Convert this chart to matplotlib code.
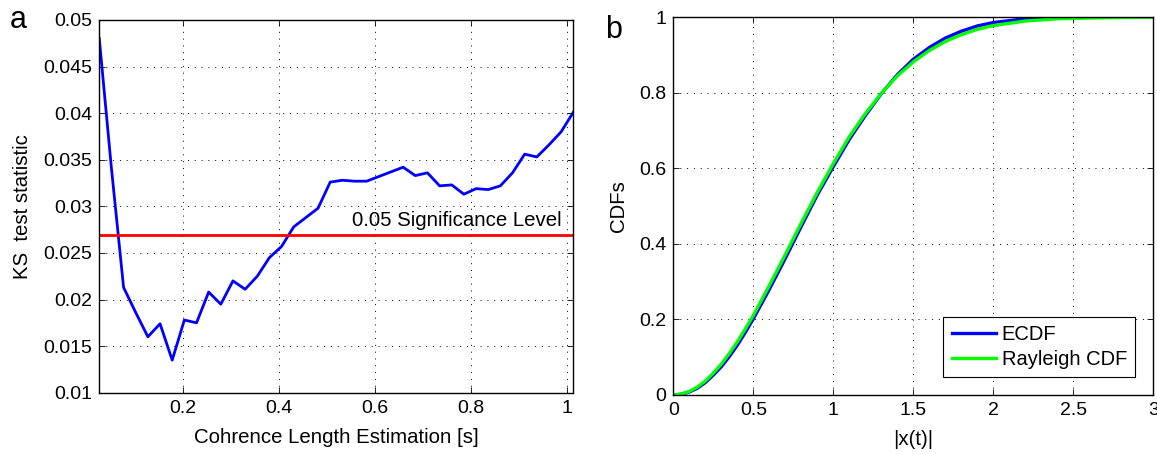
import numpy as np
import matplotlib
matplotlib.use('Agg')
import matplotlib.pyplot as plt
from matplotlib.ticker import FuncFormatter

plt.rcParams['font.family'] = ['Liberation Sans', 'DejaVu Sans']

# panel a: KS statistic vs coherence length
ks_x = np.linspace(0.025, 1.0125, 40)
ks_val = [0.0480, 0.0341, 0.0213, 0.0186, 0.0160, 0.0174, 0.0135, 0.0178,
          0.0175, 0.0208, 0.0195, 0.0220, 0.0211, 0.0225, 0.0245, 0.0257,
          0.0278, 0.0288, 0.0298, 0.0326, 0.0328, 0.0327, 0.0327, 0.0332,
          0.0337, 0.0342, 0.0333, 0.0336, 0.0322, 0.0323, 0.0313, 0.0319,
          0.0318, 0.0322, 0.0336, 0.0356, 0.0353, 0.0366, 0.0380, 0.0401]
sig_level = 0.0269

# panel b: CDFs
cdf_x = [0, 0.05, 0.1, 0.15, 0.2, 0.25, 0.3, 0.35, 0.4, 0.45, 0.5, 0.6, 0.7,
         0.8, 0.9, 1.0, 1.1, 1.2, 1.3, 1.4, 1.5, 1.6, 1.7, 1.8, 1.9, 2.0, 2.2,
         2.4, 2.6, 2.8, 3.0]
ecdf = [0, 0.002, 0.008, 0.018, 0.033, 0.053, 0.075, 0.102, 0.132, 0.166,
        0.202, 0.280, 0.362, 0.447, 0.530, 0.605, 0.677, 0.740, 0.798, 0.848,
        0.889, 0.920, 0.945, 0.963, 0.977, 0.986, 0.996, 0.999, 1.0, 1.0, 1.0]
rayleigh = [0, 0.0024, 0.0095, 0.021, 0.037, 0.058, 0.082, 0.110, 0.141, 0.175,
            0.211, 0.290, 0.372, 0.456, 0.537, 0.613, 0.684, 0.745, 0.799,
            0.845, 0.882, 0.912, 0.936, 0.954, 0.968, 0.978, 0.990, 0.996,
            0.998, 0.9994, 1.0]

fig = plt.figure(figsize=(11.57, 4.54), dpi=100)
ax1 = fig.add_axes([0.0858, 0.135, 0.4097, 0.821])
ax2 = fig.add_axes([0.582, 0.130, 0.4149, 0.832])

fmt = FuncFormatter(lambda v, p: '%g' % round(v, 4))

def style(ax):
    ax.grid(True, color='black', linestyle=(0, (1, 6)), linewidth=0.7)
    ax.tick_params(direction='in', length=4, width=0.6, top=True, right=True,
                   labelsize=14, pad=5)
    for s in ax.spines.values():
        s.set_linewidth(1.0)
    ax.xaxis.set_major_formatter(fmt)
    ax.yaxis.set_major_formatter(fmt)

ax1.plot(ks_x, ks_val, color='blue', linewidth=2)
ax1.axhline(sig_level, color='red', linewidth=2)
ax1.text(0.988, 0.0279, '0.05 Significance Level', ha='right', va='baseline',
         fontsize=14.7)
ax1.set_xlim(0.025, 1.0125)
ax1.set_ylim(0.01, 0.05)
ax1.set_xticks([0.2, 0.4, 0.6, 0.8, 1.0])
ax1.set_yticks(np.arange(0.01, 0.0501, 0.005))
ax1.set_xlabel('Cohrence Length Estimation [s]', fontsize=14.7, labelpad=8)
ax1.set_ylabel('KS  test statistic', fontsize=14.7, labelpad=8)
style(ax1)

ax2.plot(cdf_x, ecdf, color='blue', linewidth=2.4, label='ECDF')
ax2.plot(cdf_x, rayleigh, color='#00ff00', linewidth=2.4, label='Rayleigh CDF')
ax2.set_xlim(0, 3)
ax2.set_ylim(0, 1)
ax2.set_xticks([0, 0.5, 1, 1.5, 2, 2.5, 3])
ax2.set_yticks([0, 0.2, 0.4, 0.6, 0.8, 1])
ax2.set_xlabel('|x(t)|', fontsize=14.7, labelpad=8)
ax2.set_ylabel('CDFs', fontsize=14.7, labelpad=8)
style(ax2)
leg = ax2.legend(loc='lower right', fontsize=14.5, fancybox=False, framealpha=1,
                 edgecolor='black', handlelength=2.2, borderaxespad=0.9,
                 handletextpad=0.3, labelspacing=0.3, borderpad=0.4)
leg.get_frame().set_linewidth(0.8)

fig.text(10 / 1157, 1 - 28 / 454, 'a', fontsize=22)
fig.text(605 / 1157, 1 - 38 / 454, 'b', fontsize=22)

fig.savefig('out.png', dpi=100)
